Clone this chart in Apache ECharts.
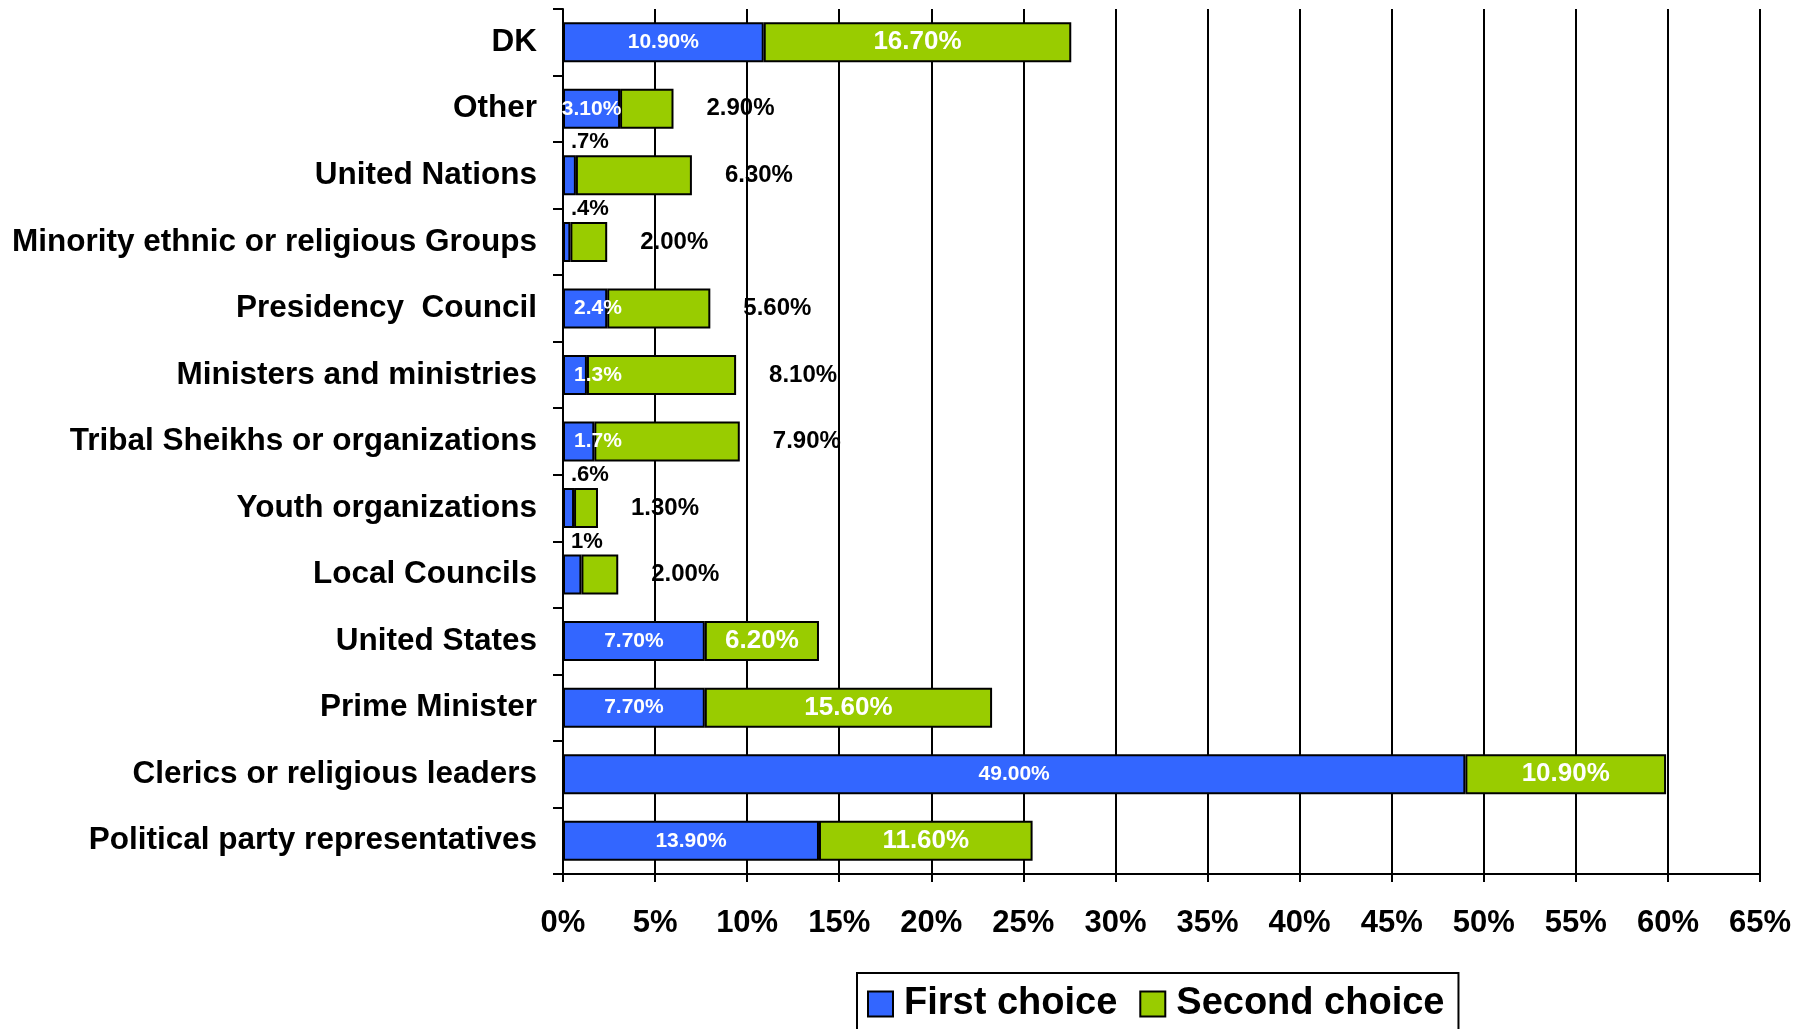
<!DOCTYPE html>
<html>
<head>
<meta charset="utf-8">
<script src="https://cdn.jsdelivr.net/npm/echarts@6/dist/echarts.min.js"></script>
<style>
  html, body { margin: 0; padding: 0; background: #fff; }
  #chart { width: 1810px; height: 1029px; }
</style>
</head>
<body>
<div id="chart"></div>
<script>
// categories, top to bottom
const categories = [
  'DK',
  'Other',
  'United Nations',
  'Minority ethnic or religious Groups',
  'Presidency  Council',
  'Ministers and ministries',
  'Tribal Sheikhs or organizations',
  'Youth organizations',
  'Local Councils',
  'United States',
  'Prime Minister',
  'Clerics or religious leaders',
  'Political party representatives'
];
const firstChoice = [10.9, 3.1, 0.7, 0.4, 2.4, 1.3, 1.7, 0.6, 1.0, 7.7, 7.7, 49.0, 13.9];
const secondChoice = [16.7, 2.9, 6.3, 2.0, 5.6, 8.1, 7.9, 1.3, 2.0, 6.2, 15.6, 10.9, 11.6];
// label texts as printed on the chart
const firstLabels = ['10.90%', '3.10%', '.7%', '.4%', '2.4%', '1.3%', '1.7%', '.6%', '1%', '7.70%', '7.70%', '49.00%', '13.90%'];
const secondLabels = ['16.70%', '2.90%', '6.30%', '2.00%', '5.60%', '8.10%', '7.90%', '1.30%', '2.00%', '6.20%', '15.60%', '10.90%', '11.60%'];
const xTicks = { min: 0, max: 65, step: 5 };

const font = "'Liberation Sans', Arial, sans-serif";
const blue = '#3366FF';
const green = '#99CC00';

const chart = echarts.init(document.getElementById('chart'));

// 第一选择的标签：很小的放在柱子上方，较小的靠左，其余居中
const firstData = firstChoice.map((v, i) => {
  let label;
  if (v < 1.1) {
    label = { position: [8, -2], align: 'left', verticalAlign: 'bottom', color: '#000', fontSize: 22 };
  } else if (v < 3) {
    label = { position: [11, '50%'], align: 'left', verticalAlign: 'middle', color: '#fff', fontSize: 21 };
  } else {
    label = { position: 'inside', color: '#fff', fontSize: 21 };
  }
  return { value: v, label: label };
});

// 第二选择：总量小的标签放在柱子右边
const secondData = secondChoice.map((v, i) => {
  const total = v + firstChoice[i];
  const label = total < 12
    ? { position: 'right', distance: 33, color: '#000', fontSize: 24 }
    : { position: 'inside', color: '#fff', fontSize: 26 };
  return { value: v, label: label };
});

const option = {
  animation: false,
  backgroundColor: '#fff',
  textStyle: { fontFamily: font },
  grid: { left: 563, right: 50, top: 9, bottom: 155 },
  legend: {
    data: ['First choice', 'Second choice'],
    left: 857,
    top: 973,
    orient: 'horizontal',
    icon: 'rect',
    itemWidth: 25,
    itemHeight: 25,
    itemGap: 22,
    padding: [12, 14, 12, 10],
    borderColor: '#000',
    borderWidth: 2,
    itemStyle: { borderColor: '#000', borderWidth: 2 },
    textStyle: { fontFamily: font, fontSize: 38, fontWeight: 'bold', color: '#000', padding: [0, 0, 0, 6] }
  },
  xAxis: {
    type: 'value',
    min: xTicks.min,
    max: xTicks.max,
    interval: xTicks.step,
    axisLine: { show: true, lineStyle: { color: '#000', width: 2 } },
    axisTick: { show: true, length: 8, lineStyle: { color: '#000', width: 2 } },
    splitLine: { show: true, lineStyle: { color: '#000', width: 2 } },
    axisLabel: {
      formatter: '{value}%',
      margin: 34,
      fontFamily: font,
      fontSize: 31,
      fontWeight: 'bold',
      color: '#000'
    }
  },
  yAxis: {
    type: 'category',
    inverse: true,
    data: categories,
    axisLine: { show: true, lineStyle: { color: '#000', width: 2 } },
    axisTick: { show: true, length: 10, lineStyle: { color: '#000', width: 2 } },
    axisLabel: {
      margin: 26,
      fontFamily: font,
      fontSize: 31.5,
      fontWeight: 'bold',
      color: '#000',
      padding: [4, 0, 0, 0]
    }
  },
  series: [
    {
      name: 'First choice',
      type: 'bar',
      stack: 'total',
      barWidth: 40,
      itemStyle: { color: blue, borderColor: '#000', borderWidth: 2 },
      label: {
        show: true,
        fontFamily: font,
        fontWeight: 'bold',
        formatter: p => firstLabels[p.dataIndex]
      },
      data: firstData
    },
    {
      name: 'Second choice',
      type: 'bar',
      stack: 'total',
      barWidth: 40,
      itemStyle: { color: green, borderColor: '#000', borderWidth: 2 },
      label: {
        show: true,
        fontFamily: font,
        fontWeight: 'bold',
        formatter: p => secondLabels[p.dataIndex]
      },
      data: secondData
    }
  ]
};

chart.setOption(option);
</script>
</body>
</html>
